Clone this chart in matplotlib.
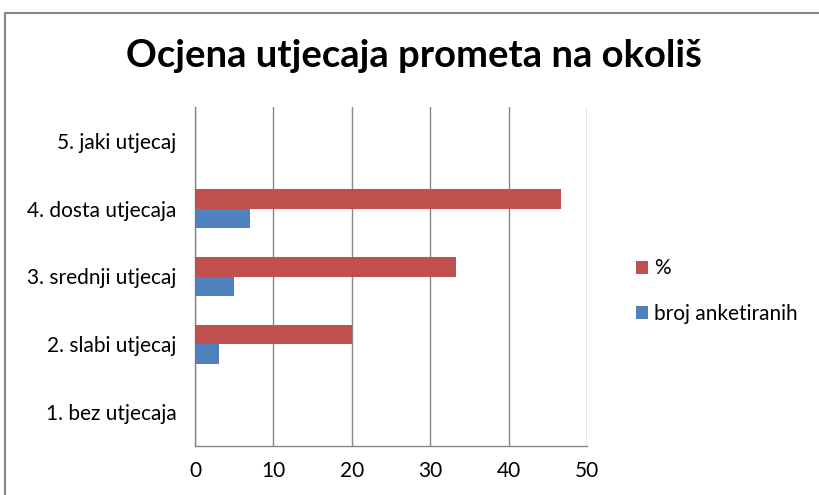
import matplotlib.pyplot as plt
from matplotlib.patches import Rectangle
import numpy as np

# data
categories = ['1. bez utjecaja', '2. slabi utjecaj', '3. srednji utjecaj',
              '4. dosta utjecaja', '5. jaki utjecaj']
broj_anketiranih = [0, 3, 5, 7, 0]
postotak = [0, 20, 33.33, 46.67, 0]
x_ticks = [0, 10, 20, 30, 40, 50]

plt.rcParams['font.family'] = ['Lato', 'DejaVu Sans']

fig = plt.figure(figsize=(8.19, 4.95), dpi=100)
ax = fig.add_axes([195 / 819, 1 - 446 / 495, (587 - 195) / 819, (446 - 107) / 495])

# outer chart frame (only top and left edges visible in the crop)
fig.patches.append(Rectangle((5 / 819, -0.1), 1.2, 1 - 13 / 495 + 0.1,
                             transform=fig.transFigure, fill=False,
                             edgecolor='#868686', linewidth=1.5))

y = np.arange(len(categories))
h = 0.286
ax.barh(y + h / 2, postotak, height=h, color='#C0504D', label='%', zorder=3)
ax.barh(y - h / 2, broj_anketiranih, height=h, color='#4F81BD',
        label='broj anketiranih', zorder=3)

ax.set_xlim(0, 50)
ax.set_ylim(-0.5, len(categories) - 0.5)
ax.set_xticks(x_ticks)
ax.set_yticks(y)
ax.set_yticklabels(categories)
ax.tick_params(length=0, labelsize=15, colors='#000000')
ax.tick_params(axis='x', pad=11)
ax.tick_params(axis='y', pad=13.5)

ax.grid(axis='x', color='#868686', linewidth=1, zorder=0)
for s in ['top', 'right']:
    ax.spines[s].set_visible(False)
for s in ['left', 'bottom']:
    ax.spines[s].set_color('#868686')
    ax.spines[s].set_linewidth(1)

fig.text(0.505, 1 - 56 / 495, 'Ocjena utjecaja prometa na okoliš',
         ha='center', va='center', fontsize=27.5, fontweight='bold')

handles, labels = ax.get_legend_handles_labels()
fig.legend(handles, labels, loc='center left',
           bbox_to_anchor=(617 / 819, 1 - 291 / 495), frameon=False,
           fontsize=15, handlelength=0.6, handleheight=0.6,
           handletextpad=0.3, labelspacing=1.2)

fig.savefig('out.png', dpi=100)
